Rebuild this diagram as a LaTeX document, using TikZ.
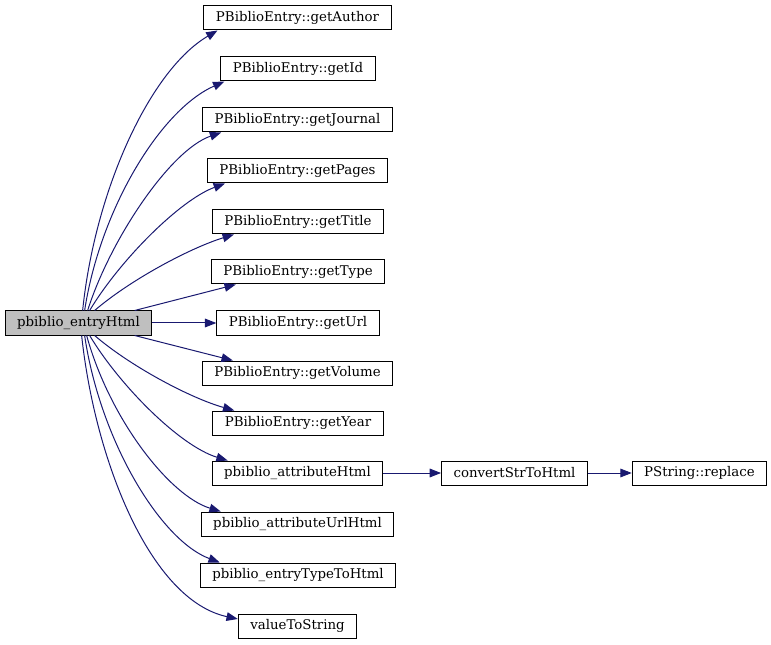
\documentclass[tikz,border=0pt]{standalone}
\usepackage{fontspec}
\setmainfont{DejaVu Serif}
\usetikzlibrary{arrows.meta,calc}
\definecolor{edgeblue}{RGB}{25,25,112}
\definecolor{callgray}{RGB}{191,191,191}
\begin{document}
\begin{tikzpicture}[x=0.75pt,y=-0.75pt,font=\fontsize{10pt}{12pt}\selectfont]
                \tikzstyle{func}=[rectangle,draw=black,line width=0.75pt,fill=white,minimum height=18pt,inner xsep=9pt,inner ysep=0pt]
                \tikzstyle{call}=[draw=edgeblue,line width=0.75pt,-{Triangle[length=8.5pt,width=6.5pt]}]
                \useasboundingbox (0,0) rectangle (771,645);
                        \node[func,fill=callgray] (F-main) at (78.5,323){pbiblio\_entryHtml};
                        \node[func] (F-author) at (297.5,18){PBiblioEntry::getAuthor};
                        \node[func] (F-id) at (298,69){PBiblioEntry::getId};
                        \node[func] (F-journal) at (297.5,120){PBiblioEntry::getJournal};
                        \node[func] (F-pages) at (297.5,171){PBiblioEntry::getPages};
                        \node[func] (F-title) at (298,222){PBiblioEntry::getTitle};
                        \node[func] (F-type) at (298,272){PBiblioEntry::getType};
                        \node[func] (F-url) at (298,323){PBiblioEntry::getUrl};
                        \node[func] (F-volume) at (297.5,373){PBiblioEntry::getVolume};
                        \node[func] (F-year) at (298,423){PBiblioEntry::getYear};
                        \node[func] (F-attr) at (297.5,473){pbiblio\_attributeHtml};
                        \node[func] (F-attrurl) at (297.5,524){pbiblio\_attributeUrlHtml};
                        \node[func] (F-entrytype) at (298,575){pbiblio\_entryTypeToHtml};
                        \node[func] (F-value) at (297.5,626){valueToString};
                        \node[func] (F-convert) at (514.5,473){convertStrToHtml};
                        \node[func] (F-replace) at (699.5,473){PString::replace};

                    % calls going up
                    \draw[call] ($(F-main.north west)+(78,0)$) .. controls (95,190) and (150,70) .. ($(F-author.south west)+(14,0)$);
                    \draw[call] ($(F-main.north west)+(80,0)$) .. controls (100,210) and (160,110) .. ($(F-id.south west)+(4,0)$);
                    \draw[call] ($(F-main.north west)+(83,0)$) .. controls (110,240) and (170,150) .. ($(F-journal.south west)+(19,0)$);
                    \draw[call] ($(F-main.north west)+(85,0)$) .. controls (120,260) and (180,200) .. ($(F-pages.south west)+(18,0)$);
                    \draw[call] ($(F-main.north west)+(90,0)$) .. controls (130,280) and (190,248) .. ($(F-title.south west)+(22,0)$);
                    \draw[call] ($(F-main.north west)+(130,0)$) -- ($(F-type.south west)+(25,0)$);
                    \draw[call] (F-main) -- (F-url);
                    % calls going down
                    \draw[call] ($(F-main.south west)+(130,0)$) -- ($(F-volume.north west)+(31,0)$);
                    \draw[call] ($(F-main.south west)+(90,0)$) .. controls (130,366) and (190,398) .. ($(F-year.north west)+(22,0)$);
                    \draw[call] ($(F-main.south west)+(85,0)$) .. controls (120,386) and (180,446) .. ($(F-attr.north west)+(16,0)$);
                    \draw[call] ($(F-main.south west)+(82,0)$) .. controls (110,420) and (170,496) .. ($(F-attrurl.north west)+(20,0)$);
                    \draw[call] ($(F-main.south west)+(80,0)$) .. controls (100,440) and (160,540) .. ($(F-entrytype.north west)+(20,0)$);
                    \draw[call] ($(F-main.south west)+(77,0)$) .. controls (95,460) and (150,600) .. ($(F-value.west)+(0,-7)$);

                    \foreach \from/\to in {attr/convert, convert/replace}
                        \draw[call] (F-\from) -- (F-\to);
            \end{tikzpicture}
\end{document}
